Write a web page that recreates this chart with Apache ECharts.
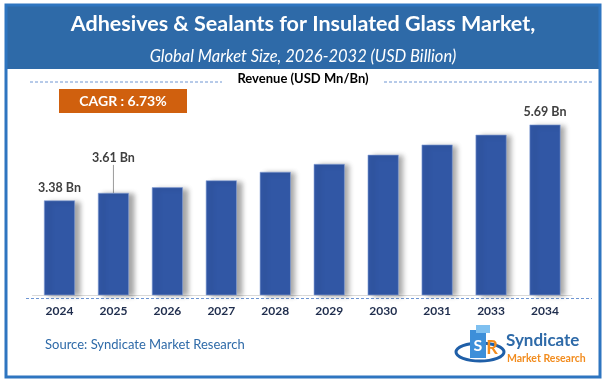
<!DOCTYPE html>
<html><head><meta charset="utf-8">
<script src="https://cdn.jsdelivr.net/npm/echarts@6/dist/echarts.min.js"></script>
<style>html,body{margin:0;padding:0;background:#fff}#c{width:606px;height:384px}</style>
</head><body><div id="c"></div>
<script>
const categories = ['2024','2025','2026','2027','2028','2029','2030','2031','2033','2034'];
const revenue = [3.38, 3.61, 3.78, 3.99, 4.25, 4.49, 4.77, 5.08, 5.38, 5.69];
const labelledIdx = [0, 1, 9];
const calloutIdx = 1;
const titleText = 'Adhesives & Sealants for Insulated Glass Market,';
const subtitleText = 'Global Market Size, 2026-2032 (USD Billion)';
const legendText = 'Revenue (USD Mn/Bn)';
const cagrText = 'CAGR : 6.73%';
const sourceText = 'Source: Syndicate Market Research';
const brandTop = 'Syndicate';
const brandBottom = 'Market Research';

const FONT = 'Lato';
const chart = echarts.init(document.getElementById('c'), null, {renderer: 'canvas'});

const seriesData = revenue.map((v, i) => ({
  value: v,
  label: { show: labelledIdx.includes(i) },
  labelLine: { show: i === calloutIdx }
}));

chart.setOption({
  animation: false,
  backgroundColor: '#fff',
  title: [
    { text: titleText, left: 'center', top: 8,
      textStyle: { color: '#fff', fontFamily: FONT, fontWeight: 'bold', fontSize: 21.5 } },
    { text: subtitleText, left: 'center', top: 43,
      textStyle: { color: '#fff', fontFamily: FONT, fontStyle: 'italic', fontWeight: 'normal', fontSize: 16.5 } }
  ],
  grid: { left: 32.5, right: 34, top: 98, bottom: 89 },
  xAxis: {
    type: 'category', data: categories,
    axisLine: { show: true, lineStyle: { color: '#d9d9d9', width: 1 } },
    axisTick: { show: false },
    axisLabel: { color: '#1f2d4d', fontFamily: FONT, fontWeight: 'bold', fontSize: 12, margin: 10 }
  },
  yAxis: {
    type: 'value', min: 0.5, max: 6.5, show: false,
    splitLine: { show: false }
  },
  series: [{
    type: 'bar', data: seriesData, barWidth: 31,
    itemStyle: {
      color: '#3157a5',
      borderColor: '#8aa3d6', borderWidth: 0.6,
      shadowColor: 'rgba(0,0,0,0.35)', shadowBlur: 5, shadowOffsetX: 5, shadowOffsetY: 1
    },
    label: {
      position: 'top', distance: 6, color: '#404040', fontFamily: FONT, fontWeight: 'bold', fontSize: 12.5,
      formatter: p => p.value.toFixed(2) + ' Bn'
    },
    labelLayout: p => p.dataIndex === calloutIdx ? { dy: -22 } : {},
    labelLine: { show: false, lineStyle: { color: '#9a9a9a', width: 1 } }
  }],
  graphic: [
    { type: 'rect', shape: { x: 6, y: 5, width: 594, height: 64 }, style: { fill: '#2e6aa8' }, z: -1 },
    { type: 'rect', shape: { x: 6, y: 5, width: 594, height: 372 }, style: { fill: null, stroke: '#2e75c0', lineWidth: 3 }, z: 10 },
    { type: 'text', style: { text: legendText, x: 303, y: 79, align: 'center', verticalAlign: 'middle',
        fill: '#000', font: 'bold 13px ' + FONT } },
    { type: 'line', shape: { x1: 30, y1: 82, x2: 222, y2: 82 }, style: { stroke: '#6e96d3', lineWidth: 1, lineDash: [3, 2] } },
    { type: 'line', shape: { x1: 384, y1: 82, x2: 592, y2: 82 }, style: { stroke: '#6e96d3', lineWidth: 1, lineDash: [3, 2] } },
    { type: 'line', shape: { x1: 26, y1: 298.5, x2: 592, y2: 298.5 }, style: { stroke: '#6e96d3', lineWidth: 1, lineDash: [3, 2] } },
    { type: 'rect', shape: { x: 59, y: 89, width: 128, height: 24 }, style: { fill: '#d0600e' } },
    { type: 'text', style: { text: cagrText, x: 123, y: 101.5, align: 'center', verticalAlign: 'middle',
        fill: '#fff', font: 'bold 14px ' + FONT } },
    { type: 'text', style: { text: sourceText, x: 45, y: 345, verticalAlign: 'middle',
        fill: '#2e6aa8', font: '13px ' + FONT } },
    // logo
    { type: 'ellipse', shape: { cx: 480, cy: 352, rx: 24, ry: 9 }, style: { fill: null, stroke: '#1f5fa8', lineWidth: 3 } },
    { type: 'rect', shape: { x: 470, y: 330, width: 16, height: 28 }, style: { fill: '#3d8fd9' } },
    { type: 'rect', shape: { x: 476, y: 325, width: 14, height: 8 }, style: { fill: '#7fc0f0' } },
    { type: 'text', style: { text: 'S', x: 478, y: 346, align: 'center', verticalAlign: 'middle', fill: '#fff', font: 'bold 16px ' + FONT } },
    { type: 'text', style: { text: 'R', x: 492, y: 348, align: 'center', verticalAlign: 'middle', fill: '#f28c1e', font: 'bold 18px ' + FONT } },
    { type: 'text', style: { text: brandTop, x: 506, y: 341, verticalAlign: 'middle', fill: '#2e6aa8', font: 'bold 17px ' + FONT } },
    { type: 'text', style: { text: brandBottom, x: 507, y: 359, verticalAlign: 'middle', fill: '#f28c1e', font: 'bold 10.5px ' + FONT } }
  ]
});
</script></body></html>
